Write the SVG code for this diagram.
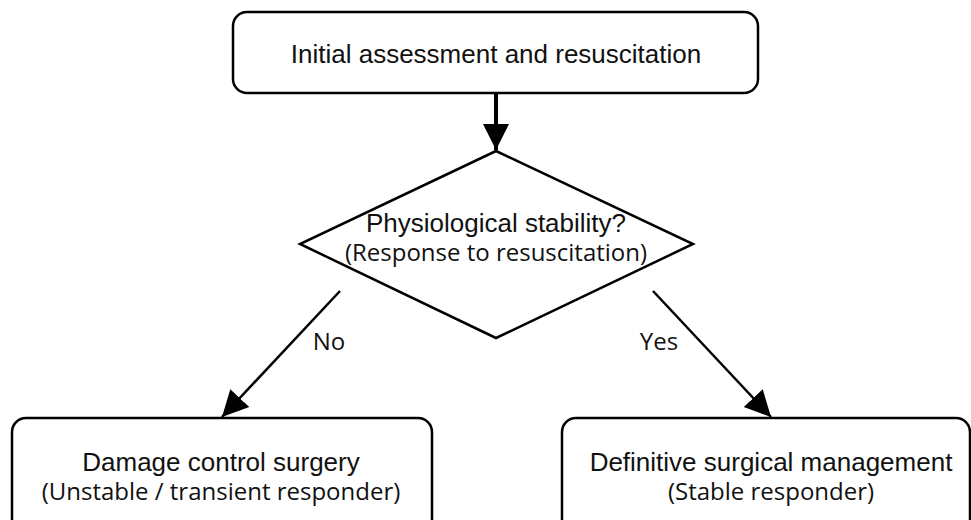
<svg xmlns="http://www.w3.org/2000/svg" width="971" height="520" viewBox="0 0 971 520">
<style>
.box{fill:#fff;stroke:#000;stroke-width:2.5}
.t1{font-family:"Liberation Sans",Arial,sans-serif;font-size:26px;fill:#111;text-anchor:middle}
.t2{font-family:"Open Sans","Noto Sans",sans-serif;font-size:24px;font-weight:500;fill:#111;text-anchor:middle}
.lbl{font-family:"Open Sans","Noto Sans",sans-serif;font-size:24px;font-weight:500;fill:#111;text-anchor:middle}
.conn{stroke:#000;stroke-width:2.5;fill:none}
</style>
<defs>
<marker id="ah" markerUnits="userSpaceOnUse" markerWidth="28" markerHeight="28" viewBox="0 0 28 28" refX="26" refY="14" orient="auto">
<path d="M0,1 L26,14 L0,27 Z" fill="#000"/>
</marker>
</defs>
<rect width="971" height="520" fill="#fff"/>
<g id="connectors">
<line class="conn" x1="496" y1="93" x2="496" y2="150" style="stroke-width:4" marker-end="url(#ah)"/>
<line class="conn" x1="340" y1="291" x2="222" y2="417" marker-end="url(#ah)"/>
<line class="conn" x1="653" y1="291" x2="771" y2="417" marker-end="url(#ah)"/>
<text class="lbl" x="329" y="350">No</text>
<text class="lbl" x="659" y="350">Yes</text>
</g>
<g id="initial">
<rect class="box" x="233" y="12" width="525" height="81" rx="14"/>
<text class="t1" x="496" y="63">Initial assessment and resuscitation</text>
</g>
<g id="stability">
<polygon class="box" points="496,151 693,244 496,338 300,244"/>
<text class="t1" x="496" y="232">Physiological stability?</text>
<text class="t2" x="496" y="261">(Response to resuscitation)</text>
</g>
<g id="damage">
<rect class="box" x="12" y="418" width="420" height="120" rx="14"/>
<text class="t1" x="221" y="471">Damage control surgery</text>
<text class="t2" x="221" y="500">(Unstable / transient responder)</text>
</g>
<g id="definitive">
<rect class="box" x="562" y="418" width="408" height="120" rx="14"/>
<text class="t1" x="771" y="471">Definitive surgical management</text>
<text class="t2" x="771" y="500">(Stable responder)</text>
</g>
</svg>
